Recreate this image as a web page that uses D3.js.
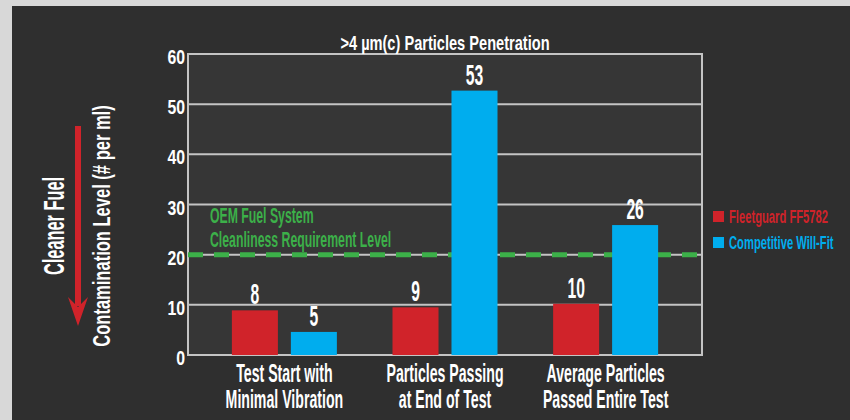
<!DOCTYPE html>
<html>
<head>
<meta charset="utf-8">
<script src="https://cdn.jsdelivr.net/npm/d3@7/dist/d3.min.js"></script>
<style>
  html, body { margin: 0; padding: 0; background: #d8d8d8; }
  svg { display: block; }
</style>
</head>
<body>
<svg id="chart" width="850" height="420"></svg>
<script>
// ---- data ----
const categories = [
  ["Test Start with", "Minimal Vibration"],
  ["Particles Passing", "at End of Test"],
  ["Average Particles", "Passed Entire Test"]
];
const seriesNames = ["Fleetguard FF5782", "Competitive Will-Fit"];
const fleetguard = [8.9, 9.5, 10.2];          // bar heights as drawn
const fleetguardLabels = ["8", "9", "10"];
const competitive = [4.6, 52.7, 25.9];
const competitiveLabels = ["5", "53", "26"];
const yTicks = [0, 10, 20, 30, 40, 50, 60];
const oemLevel = 20;
const oemText = ["OEM Fuel System", "Cleanliness Requirement Level"];
const chartTitle = ">4 \u00b5m(c) Particles Penetration";
const yTitle = "Contamination Level (# per ml)";
const arrowTitle = "Cleaner Fuel";

// ---- setup ----
const svg = d3.select("#chart");
const W = 850, H = 420;
const plot = { left: 188, right: 702, top: 54, bottom: 355 };
const colors = ["#d0232a", "#00adee"];
const FONT = "'Liberation Sans', Arial, sans-serif";
const NARROW = 0.82;

function txt(parent, s, x, y, size, sx, o = {}) {
  const k = o.wide ? sx : sx * NARROW;
  return parent.append("text")
    .attr("transform", `translate(${x},${y})` + (o.rotate ? ` rotate(${o.rotate})` : "") + ` scale(${k},1)`)
    .attr("font-family", FONT)
    .attr("font-weight", o.weight || "bold")
    .attr("font-size", size)
    .attr("fill", o.fill || "#ffffff")
    .attr("text-anchor", o.anchor || "middle")
    .text(s);
}

// background
svg.append("rect").attr("width", W).attr("height", H).attr("fill", "#d8d8d8");
svg.append("rect").attr("x", 12).attr("y", 6).attr("width", W - 12).attr("height", H - 6).attr("fill", "#2f2f2f");

// scales
const x0 = d3.scaleBand().domain(d3.range(categories.length))
  .range([plot.left, plot.right]).paddingInner(0).paddingOuter(0.1);
const bw = x0.bandwidth();
const x1 = d3.scaleBand().domain(d3.range(seriesNames.length))
  .range([bw / 2 - 52.5, bw / 2 + 52.5]).paddingInner(0.22).paddingOuter(0);
const y = d3.scaleLinear().domain([0, 60]).range([plot.bottom, plot.top]);

// plot background
svg.append("rect")
  .attr("x", plot.left).attr("y", plot.top)
  .attr("width", plot.right - plot.left).attr("height", plot.bottom - plot.top)
  .attr("fill", "#363636");

// gridlines
const gridG = svg.append("g");
gridG.selectAll("line").data(yTicks).join("line")
  .attr("x1", plot.left).attr("x2", plot.right)
  .attr("y1", d => y(d)).attr("y2", d => y(d))
  .attr("stroke", "#c4c4c4").attr("stroke-width", 2);
gridG.append("line").attr("x1", plot.left).attr("x2", plot.left).attr("y1", plot.top - 1).attr("y2", plot.bottom + 1)
  .attr("stroke", "#c4c4c4").attr("stroke-width", 2);
gridG.append("line").attr("x1", plot.right).attr("x2", plot.right).attr("y1", plot.top - 1).attr("y2", plot.bottom + 1)
  .attr("stroke", "#c4c4c4").attr("stroke-width", 2);

// OEM dashed line (behind bars)
svg.append("line")
  .attr("x1", plot.left).attr("x2", plot.right)
  .attr("y1", y(oemLevel)).attr("y2", y(oemLevel))
  .attr("stroke", "#3cb049").attr("stroke-width", 5)
  .attr("stroke-dasharray", "15 11");

// bars
const values = [fleetguard, competitive];
const labels = [fleetguardLabels, competitiveLabels];
const rows = [];
categories.forEach((c, i) => values.forEach((v, s) => rows.push({ i, s, v: v[i], lab: labels[s][i] })));

svg.append("g").selectAll("rect").data(rows).join("rect")
  .attr("x", d => x0(d.i) + x1(d.s))
  .attr("width", x1.bandwidth())
  .attr("y", d => y(d.v))
  .attr("height", d => y(0) - y(d.v))
  .attr("fill", d => colors[d.s]);

// value labels
rows.forEach(d => {
  txt(svg, d.lab, x0(d.i) + x1(d.s) + x1.bandwidth() / 2, y(d.v) - 6, 29, 0.66);
});

// OEM text
txt(svg, oemText[0], 210, 222.5, 22, 0.68, { anchor: "start", fill: "#3cb049" });
txt(svg, oemText[1], 210, 246.5, 22, 0.68, { anchor: "start", fill: "#3cb049" });

// y tick labels
yTicks.forEach(t => txt(svg, String(t), 185, y(t) + 10, 21, 0.92, { anchor: "end" }));

// category labels
categories.forEach((c, i) => {
  const cx = x0(i) + bw / 2;
  txt(svg, c[0], cx, 382, 25, 0.69);
  txt(svg, c[1], cx, 408, 25, 0.69);
});

// title
txt(svg, chartTitle, (plot.left + plot.right) / 2, 50, 20, 0.89);

// y axis title
txt(svg, yTitle, 110, 226, 24, 0.84, { rotate: -90 });
// cleaner fuel
txt(svg, arrowTitle, 64, 226, 30, 0.545, { rotate: -90, wide: true });

// red arrow
svg.append("line").attr("x1", 78).attr("x2", 78).attr("y1", 126).attr("y2", 306)
  .attr("stroke", colors[0]).attr("stroke-width", 6);
svg.append("path")
  .attr("d", "M78,326 L68,297 L78,307 L88,297 Z")
  .attr("fill", colors[0]);

// legend
const legG = svg.append("g");
seriesNames.forEach((n, s) => {
  const ly = 211 + s * 26;
  legG.append("rect").attr("x", 713).attr("y", ly).attr("width", 11).attr("height", 11).attr("fill", colors[s]);
  txt(legG, n, 729, ly + 12, 18, 0.76, { anchor: "start", fill: colors[s] });
});
</script>
</body>
</html>
